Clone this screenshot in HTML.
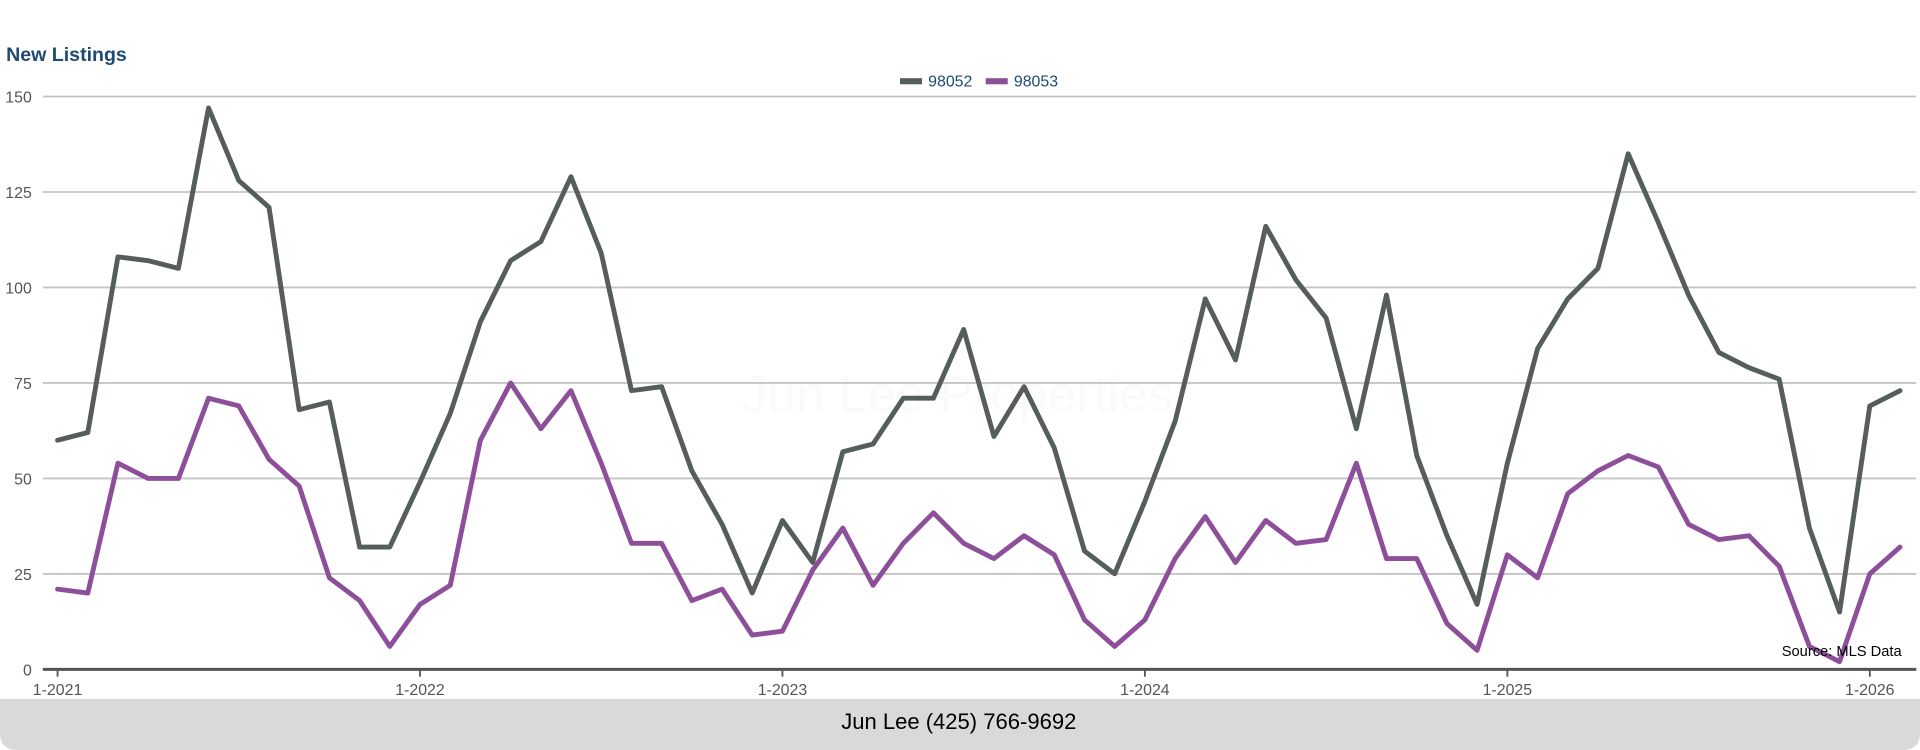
<!DOCTYPE html>
<html><head><meta charset="utf-8"><style>
html,body{margin:0;padding:0;background:#fff;overflow:hidden}
svg{display:block;font-family:"Liberation Sans",sans-serif}
</style></head><body>
<svg id="chart" width="1920" height="750" viewBox="0 0 1568 614" preserveAspectRatio="none" xmlns="http://www.w3.org/2000/svg">
<text x="5" y="50" font-size="16" font-weight="bold" fill="#1f4a72">New Listings</text>
<g>
<g><rect x="735" y="64" width="18" height="5" fill="#555e5c"/><text x="758" y="71" font-size="13" fill="#1f4a72">98052</text></g>
<g><rect x="805" y="64" width="18" height="5" fill="#8e4f9a"/><text x="828" y="71" font-size="13" fill="#1f4a72">98053</text></g>
</g>
<text x="782" y="337" font-size="42" text-anchor="middle" fill="#000" fill-opacity="0.02">Jun Lee Properties</text>
<g id="grid"></g>
<g id="yticks"></g>
<g id="xticks"></g>
<g id="series"></g>
<text x="1553" y="537" font-size="12" text-anchor="end" fill="#000">Source: MLS Data</text>
<path d="M0 572 H1568 V600 Q1568 614 1554 614 H14 Q0 614 0 600 Z" fill="#d9d9d9"/>
<text x="783" y="597" font-size="18" text-anchor="middle" fill="#000">Jun Lee (425) 766-9692</text>
</svg>
<script>
const yTicks=[0,25,50,75,100,125,150];
const xTickLabels=["1-2021","1-2022","1-2023","1-2024","1-2025","1-2026"];
const series98052=[60,62,108,107,105,147,128,121,68,70,32,32,
49,67,91,107,112,129,109,73,74,52,38,20,
39,28,57,59,71,71,89,61,74,58,31,25,
44,65,97,81,116,102,92,63,98,56,35,17,
54,84,97,105,135,117,98,83,79,76,37,15,
69,73];
const series98053=[21,20,54,50,50,71,69,55,48,24,18,6,
17,22,60,75,63,73,54,33,33,18,21,9,
10,26,37,22,33,41,33,29,35,30,13,6,
13,29,40,28,39,33,34,54,29,29,12,5,
30,24,46,52,56,53,38,34,35,27,6,2,
25,32];
const NS="http://www.w3.org/2000/svg";
const x=i=>47+i*296/12;
const y=v=>548-v*(469/150);
function mk(tag,attrs,parent){const e=document.createElementNS(NS,tag);for(const k in attrs)e.setAttribute(k,attrs[k]);parent.appendChild(e);return e;}
const grid=document.getElementById('grid'),yt=document.getElementById('yticks'),xt=document.getElementById('xticks'),sg=document.getElementById('series');
yTicks.forEach(v=>{
 if(v>0){const l=mk('line',{x1:35,x2:1565,y1:y(v),y2:y(v),stroke:'#c4c4c4','stroke-width':1.5},grid);
 
 }
 const t=mk('text',{x:26,y:y(v)+5,'font-size':13,'text-anchor':'end',fill:'#555'},yt);t.textContent=v;
 
 
});
const ax=mk('line',{x1:35,x2:1565,y1:548,y2:548,stroke:'#555','stroke-width':2.5},xt);


xTickLabels.forEach((s,k)=>{
 const xx=x(k*12);
 mk('line',{x1:xx,x2:xx,y1:548,y2:554,stroke:'#555','stroke-width':1.5},xt);
 const t=mk('text',{x:xx,y:569,'font-size':13,'text-anchor':'middle',fill:'#555'},xt);t.textContent=s;
 
 
});
function line(data,color,name){
 const d=data.map((v,i)=>(i?'L':'M')+x(i).toFixed(1)+' '+y(v).toFixed(1)).join(' ');
 const p=mk('path',{d:d,fill:'none',stroke:color,'stroke-width':4,'stroke-linejoin':'round','stroke-linecap':'round'},sg);
 
 
}
line(series98052,'#555e5c','line-98052');
line(series98053,'#8e4f9a','line-98053');
</script>
</body></html>
